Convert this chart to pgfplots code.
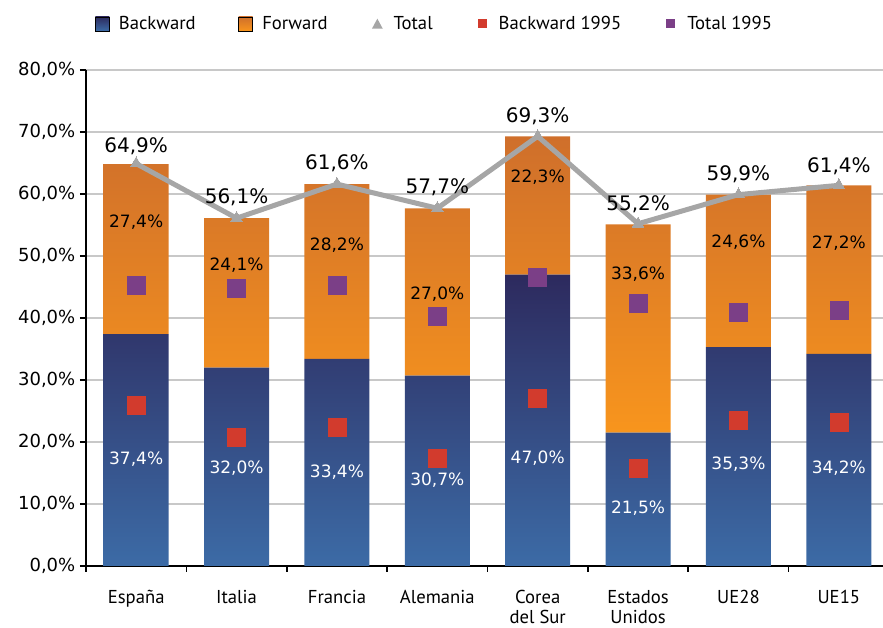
\documentclass[border=0pt]{standalone}
\usepackage{fontspec}
\setmainfont{PT Sans}
\newfontfamily\numfont{DejaVu Sans}
\usepackage{pgfplots}
\pgfplotsset{compat=1.18}
\usetikzlibrary{calc}
\definecolor{bwtop}{HTML}{2D2A5E}
\definecolor{bwbot}{HTML}{3C6BA6}
\definecolor{fwtop}{HTML}{CF6F2B}
\definecolor{fwbot}{HTML}{F8951D}
\definecolor{totgray}{HTML}{A6A6A6}
\definecolor{redsq}{HTML}{D23B2D}
\definecolor{purpsq}{HTML}{7B3F87}
\definecolor{gridgray}{HTML}{C8C8C8}
\pgfplotsset{base/.style={scale only axis, width=597.75pt, height=372pt,
  xmin=-0.5, xmax=7.44, ymin=0, ymax=80, clip=false}}
\begin{document}
\begin{tikzpicture}
\begin{axis}[base, name=ax, ybar stacked, bar width=48.75pt,
  axis x line*=bottom, axis y line*=left,
  axis line style={line width=1.2pt, black, -},
  ytick={0,10,...,80},
  yticklabels={{0,0\%},{10,0\%},{20,0\%},{30,0\%},{40,0\%},{50,0\%},{60,0\%},{70,0\%},{80,0\%}},
  ymajorgrids, grid style={gridgray, line width=0.9pt},
  yticklabel style={font=\numfont\fontsize{13.5pt}{16pt}\selectfont},
  tick align=outside, major tick length=4.5pt, tick style={black, line width=1.2pt},
  xtick={-0.5,0.5,...,7.5},
  xticklabels={España,Italia,Francia,Alemania,{Corea\\del Sur},{Estados\\Unidos},UE28,UE15,{}},
  xticklabel style={align=center, xshift=37.64pt, yshift=-10pt, font=\fontsize{14pt}{15pt}\selectfont},
]
\addplot[draw=none, top color=bwtop, bottom color=bwbot] coordinates
  {(0,37.4) (1,32.0) (2,33.4) (3,30.7) (4,47.0) (5,21.5) (6,35.3) (7,34.2)};
\addplot[draw=none, top color=fwtop, bottom color=fwbot] coordinates
  {(0,27.4) (1,24.1) (2,28.2) (3,27.0) (4,22.3) (5,33.6) (6,24.6) (7,27.2)};
\end{axis}
\begin{axis}[base, axis lines=none, legend columns=5,
  legend style={at={(0.011,1.093)}, anchor=west, draw=none, fill=none,
    font=\fontsize{14pt}{16pt}\selectfont, inner xsep=0pt,
    column sep=5pt, /tikz/every even column/.append style={column sep=30pt}},
]
\addlegendimage{legend image code/.code={\shade[top color=bwtop,bottom color=bwbot] (0pt,-5.25pt) rectangle (10.5pt,5.25pt);}}
\addlegendentry{Backward}
\addlegendimage{legend image code/.code={\shade[top color=fwtop,bottom color=fwbot] (0pt,-5.25pt) rectangle (10.5pt,5.25pt);}}
\addlegendentry{Forward}
\addplot[totgray, line width=3.75pt, mark=triangle*, mark size=5pt, mark options={solid, line width=0pt},
  legend image code/.code={\path[draw=none, fill=none] (0pt,-5.25pt) rectangle (10.5pt,5.25pt); \fill[totgray, draw=none, line width=0pt] (1.2pt,-3.6pt) -- (9.3pt,-3.6pt) -- (5.25pt,3.9pt) -- cycle;}]
  coordinates {(0,64.9) (1,56.1) (2,61.6) (3,57.7) (4,69.3) (5,55.2) (6,59.9) (7,61.4)};
\addlegendentry{Total}
\addplot[only marks, mark=square*, mark size=6.75pt, redsq, mark options={draw=none},
  legend image code/.code={\path[draw=none, fill=none] (0pt,-5.25pt) rectangle (10.5pt,5.25pt); \fill[redsq, draw=none, line width=0pt] (1.9pt,-3.4pt) rectangle (8.6pt,3.4pt);}]
  coordinates {(0,26.0) (1,20.8) (2,22.3) (3,17.3) (4,27.1) (5,15.8) (6,23.5) (7,23.2)};
\addlegendentry{Backward 1995}
\addplot[only marks, mark=square*, mark size=6.75pt, purpsq, mark options={draw=none},
  legend image code/.code={\path[draw=none, fill=none] (0pt,-5.25pt) rectangle (10.5pt,5.25pt); \fill[purpsq, draw=none, line width=0pt] (1.9pt,-3.4pt) rectangle (8.6pt,3.4pt);}]
  coordinates {(0,45.3) (1,44.8) (2,45.2) (3,40.2) (4,46.6) (5,42.4) (6,41.0) (7,41.3)};
\addlegendentry{Total 1995}
% backward labels
\addplot[forget plot, draw=none, mark=none, point meta=explicit symbolic,
  nodes near coords={\pgfplotspointmeta\%},
  every node near coord/.append style={anchor=center, text=white, font=\numfont\fontsize{12.75pt}{14pt}\selectfont}]
  table[meta=l]{
x y l
0 17.3 37,4
1 15.8 32,0
2 15.2 33,4
3 13.9 30,7
4 17.4 47,0
5 9.4 21,5
6 16.5 35,3
7 15.8 34,2
};
% forward labels
\addplot[forget plot, draw=none, mark=none, point meta=explicit symbolic,
  nodes near coords={\pgfplotspointmeta\%},
  every node near coord/.append style={anchor=center, text=black, font=\numfont\fontsize{12.75pt}{14pt}\selectfont}]
  table[meta=l]{
x y l
0 55.5 27,4
1 48.5 24,1
2 51.8 28,2
3 43.9 27,0
4 62.7 22,3
5 47.1 33,6
6 52.3 24,6
7 52.1 27,2
};
% total labels
\addplot[forget plot, draw=none, mark=none, point meta=explicit symbolic,
  nodes near coords={\pgfplotspointmeta\%},
  every node near coord/.append style={anchor=center, text=black, font=\numfont\fontsize{15pt}{17pt}\selectfont}]
  table[meta=l]{
x y l
0 67.7 64,9
1 59.5 56,1
2 65.0 61,6
3 61.1 57,7
4 72.6 69,3
5 58.4 55,2
6 63.2 59,9
7 64.5 61,4
};
\end{axis}
\pgfresetboundingbox
\path ($(ax.south west)+(-64.5pt,-46.5pt)$) rectangle ($(ax.north east)+(0pt,52.5pt)$);
\end{tikzpicture}
\end{document}
